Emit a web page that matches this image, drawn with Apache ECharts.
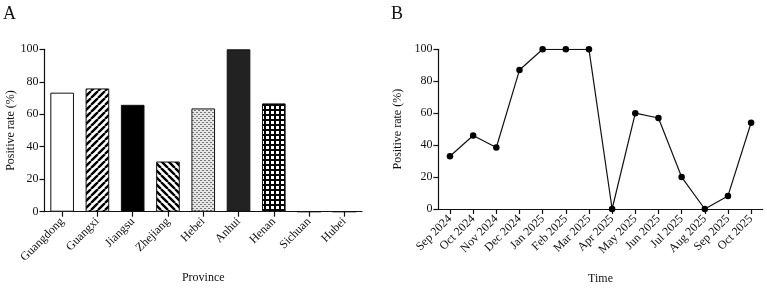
<!DOCTYPE html>
<html><head><meta charset="utf-8">
<script src="https://cdn.jsdelivr.net/npm/echarts@6/dist/echarts.min.js"></script>
<style>html,body{margin:0;padding:0;background:#fff}#c{width:767px;height:290px}</style>
</head><body><div id="c"></div>
<script>
// ---- data ----
const provinces = ['Guangdong','Guangxi','Jiangsu','Zhejiang','Hebei','Anhui','Henan','Sichuan','Hubei'];
const provinceRates = [73.3, 75.9, 65.8, 30.9, 63.6, 100, 66.7, 0, 0];
const months = ['Sep 2024','Oct 2024','Nov 2024','Dec 2024','Jan 2025','Feb 2025','Mar 2025','Apr 2025','May 2025','Jun 2025','Jul 2025','Aug 2025','Sep 2025','Oct 2025'];
const monthlyRates = [33, 46, 38.5, 87, 100, 100, 100, 0, 60, 57, 20, 0, 8.2, 54];
const yMin = 0, yMax = 100, yStep = 20;

// ---- patterns ----
function mk(w, h, draw) { const c = document.createElement('canvas'); c.width = w; c.height = h; draw(c.getContext('2d'), w, h); return c; }
function stripes(dir) {
  return mk(7, 7, (g, s) => {
    g.fillStyle = '#fff'; g.fillRect(0, 0, s, s);
    g.strokeStyle = '#000'; g.lineWidth = 2.4; g.beginPath();
    for (const k of [-s, 0, s]) {
      if (dir === '/') { g.moveTo(k, s); g.lineTo(k + s, 0); }
      else { g.moveTo(k, 0); g.lineTo(k + s, s); }
    }
    g.stroke();
  });
}
const dots = mk(4, 4, (g) => { g.fillStyle = '#e6e6e6'; g.fillRect(0,0,4,4); g.fillStyle = '#777'; g.fillRect(0,0,2,1); g.fillRect(2,2,2,1); });
const grid = mk(5, 5, (g) => { g.fillStyle = '#000'; g.fillRect(0,0,5,5); g.fillStyle = '#fff'; g.fillRect(1,1,3,3); });

const barStyles = [
  { color: '#fff' },
  { color: { image: stripes('/'), repeat: 'repeat' } },
  { color: '#000' },
  { color: { image: stripes('\\'), repeat: 'repeat' } },
  { color: { image: dots, repeat: 'repeat' } },
  { color: '#222' },
  { color: { image: grid, repeat: 'repeat' } },
  { color: '#fff' },
  { color: '#fff' }
];

const FONT = 'Liberation Serif';
const axisLine = { show: true, lineStyle: { color: '#111', width: 1.2 } };
const axisTick = { show: true, length: 5, lineStyle: { color: '#111', width: 1.2 } };
const lbl = { color: '#111', fontFamily: FONT, fontSize: 12 };

const chart = echarts.init(document.getElementById('c'), null, { renderer: 'canvas' });
chart.setOption({
  animation: false,
  backgroundColor: '#fff',
  graphic: [
    { type: 'text', left: 3, top: 5, style: { text: 'A', font: '18px "Liberation Serif"', fill: '#111' } },
    { type: 'text', left: 391, top: 5, style: { text: 'B', font: '18px "Liberation Serif"', fill: '#111' } }
  ],
  grid: [
    { left: 44.5, right: 405, top: 49.3, bottom: 78.3 },
    { left: 438.4, right: 4.3, top: 49.3, bottom: 77.3 }
  ],
  xAxis: [
    { gridIndex: 0, type: 'category', data: provinces, axisLine, axisTick: Object.assign({ alignWithLabel: true }, axisTick),
      axisLabel: Object.assign({ rotate: 45, margin: 8, interval: 0 }, lbl),
      name: 'Province', nameLocation: 'middle', nameGap: 60, nameTextStyle: { color: '#111', fontFamily: FONT, fontSize: 12 } },
    { gridIndex: 1, type: 'category', data: months, axisLine, axisTick: Object.assign({ alignWithLabel: true }, axisTick),
      axisLabel: Object.assign({ rotate: 45, margin: 8, interval: 0 }, lbl),
      name: 'Time', nameLocation: 'middle', nameGap: 64, nameTextStyle: { color: '#111', fontFamily: FONT, fontSize: 12 } }
  ],
  yAxis: [
    { gridIndex: 0, type: 'value', min: yMin, max: yMax, interval: yStep, axisLine, axisTick, splitLine: { show: false },
      axisLabel: Object.assign({ margin: 6 }, lbl),
      name: 'Positive rate (%)', nameLocation: 'middle', nameGap: 27, nameTextStyle: { color: '#111', fontFamily: FONT, fontSize: 12 } },
    { gridIndex: 1, type: 'value', min: yMin, max: yMax, interval: yStep, axisLine, axisTick, splitLine: { show: false },
      axisLabel: Object.assign({ margin: 6 }, lbl),
      name: 'Positive rate (%)', nameLocation: 'middle', nameGap: 35, nameTextStyle: { color: '#111', fontFamily: FONT, fontSize: 12 } }
  ],
  series: [
    { type: 'bar', xAxisIndex: 0, yAxisIndex: 0, barWidth: '67%',
      itemStyle: { borderColor: '#111', borderWidth: 1 },
      data: provinceRates.map((v, i) => ({ value: v, itemStyle: barStyles[i] })) },
    { type: 'line', xAxisIndex: 1, yAxisIndex: 1, data: monthlyRates, symbol: 'circle', symbolSize: 6.5,
      lineStyle: { color: '#111', width: 1.2 }, itemStyle: { color: '#000' } }
  ]
});
</script></body></html>
